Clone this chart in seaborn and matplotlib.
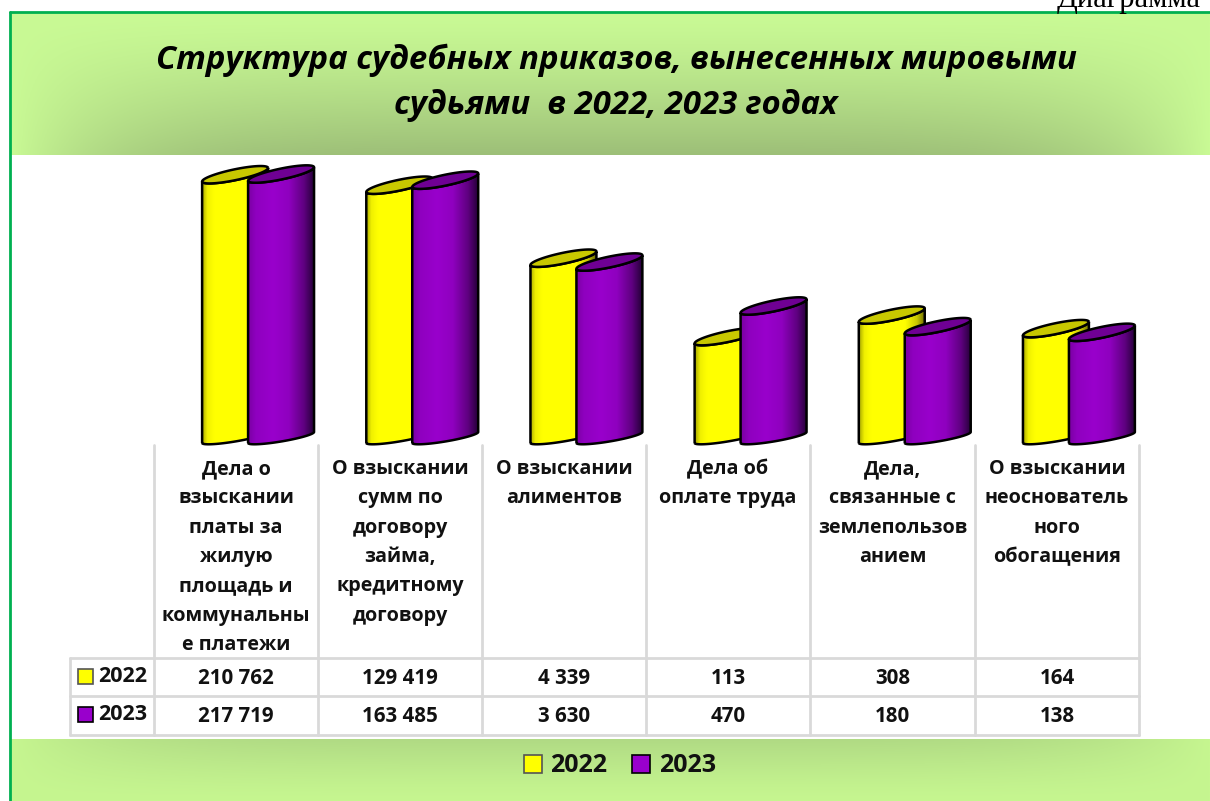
import numpy as np
import pandas as pd
import matplotlib
matplotlib.use('Agg')
import matplotlib.pyplot as plt
import seaborn as sns
from matplotlib.colors import LinearSegmentedColormap, to_rgb
from matplotlib.patches import Patch, PathPatch
from matplotlib.path import Path

categories = [
    'Дела о\nвзыскании\nплаты за\nжилую\nплощадь и\nкоммунальны\nе платежи',
    'О взыскании\nсумм по\nдоговору\nзайма,\nкредитному\nдоговору',
    'О взыскании\nалиментов',
    'Дела об\nоплате труда',
    'Дела,\nсвязанные с\nземлепользов\nанием',
    'О взыскании\nнеоснователь\nного\nобогащения',
]
values_2022 = [210762, 129419, 4339, 113, 308, 164]
values_2023 = [217719, 163485, 3630, 470, 180, 138]
years = ['2022', '2023']
title_lines = ['Структура судебных приказов, вынесенных мировыми',
               'судьями  в 2022, 2023 годах']

YELLOW = '#ffff00'
PURPLE = '#9900cc'
GRID = '#d9d9d9'
FONT = 'Open Sans'

W, H = 1210, 801
COLS = [154, 318, 482, 646, 810, 975, 1139]


def fmt(v):
    return f'{v:,}'.replace(',', ' ')


def band(ax, x0, x1, y0, y1, light, dark, dark_at_bottom=True, power=1.3):
    # soft green header/footer, darkest in the middle of one edge
    v = np.linspace(0, 1, 120)[:, None]
    if not dark_at_bottom:
        v = v[::-1]
    u = np.linspace(-1, 1, 500)[None, :]
    t = (v ** power) * (1 - np.abs(u) ** 5)
    rgb = np.array(to_rgb(light)) + t[..., None] * (np.array(to_rgb(dark)) - np.array(to_rgb(light)))
    ax.imshow(rgb, extent=(x0, x1, y1, y0), aspect='auto', zorder=1)


def ell(t, xc, yc, w, rise, b):
    return np.c_[xc + w / 2 * np.cos(t), yc - rise / 2 * np.cos(t) - b * np.sin(t)]


sns.set_theme(style='white')
plt.rcParams['font.family'] = FONT

fig = plt.figure(figsize=(W / 100, H / 100), dpi=100, facecolor='white')

# background, table and text live on a pixel-sized axes
deco = fig.add_axes([0, 0, 1, 1], zorder=0)

band(deco, 11, W, 13, 155, '#c9fa95', '#9dbf78')
band(deco, 11, W, 739, H, '#c6f690', '#b0da84', dark_at_bottom=False)
deco.plot([10, 10], [12, H], color='#00b050', lw=2, zorder=3)
deco.plot([10, W], [12, 12], color='#00b050', lw=2, zorder=3)
deco.text(1201, 7, 'Диаграмма', family='Liberation Serif', fontsize=22, ha='right',
          va='baseline', color='black', zorder=3)

for i, line in enumerate(title_lines):
    deco.text(616, 60 + i * 45, line, fontsize=23.7, fontweight='bold', style='italic',
              ha='center', va='center', color='black', zorder=4)

# table grid
for x in COLS:
    deco.plot([x, x], [445, 735], color=GRID, lw=2, zorder=2)
deco.plot([70, 70], [658, 735], color=GRID, lw=2, zorder=2)
for y in [658, 696, 735]:
    deco.plot([70, COLS[-1]], [y, y], color=GRID, lw=2, zorder=2)

for j, cat in enumerate(categories):
    xc = (COLS[j] + COLS[j + 1]) / 2
    for i, line in enumerate(cat.split('\n')):
        deco.text(xc, 469 + i * 29.3, line, fontsize=14.2, fontweight='bold', ha='center',
                  va='center', color='#111111', zorder=4)
    deco.text(xc, 678, fmt(values_2022[j]), fontsize=14.8, fontweight='bold', ha='center',
              va='center', color='#111111', zorder=4)
    deco.text(xc, 716, fmt(values_2023[j]), fontsize=14.8, fontweight='bold', ha='center',
              va='center', color='#111111', zorder=4)

for y, year, col, edge in [(676, years[0], YELLOW, '#555555'), (714, years[1], PURPLE, 'black')]:
    deco.add_patch(plt.Rectangle((78, y - 7.5), 15, 15, facecolor=col, edgecolor=edge, lw=1.2, zorder=4))
    deco.text(98, y + 1, year, fontsize=15.5, fontweight='bold', ha='left', va='center',
              color='#111111', zorder=4)

deco.set_xlim(0, W)
deco.set_ylim(H, 0)
deco.axis('off')

# bars: log value axis, 1 sits at the table top, one decade is 49.5 px
df = pd.DataFrame({
    'category': categories * 2,
    'year': [years[0]] * len(categories) + [years[1]] * len(categories),
    'value': values_2022 + values_2023,
})

PX_DECADE = 49.5
ax_l, ax_r, ax_top, ax_bot = 166, 1151, 150, 445
ax = fig.add_axes([ax_l / W, 1 - ax_bot / H, (ax_r - ax_l) / W, (ax_bot - ax_top) / H], zorder=1)
sns.barplot(data=df, x='category', y='value', hue='year', hue_order=years,
            palette=[YELLOW, PURPLE], saturation=1, width=0.56, gap=0, log_scale=True,
            legend=False, ax=ax)
ax.set_xlim(-0.5, len(categories) - 0.5)
ax.set_ylim(1, 10 ** ((ax_bot - ax_top) / PX_DECADE))
ax.axis('off')

# overlay turning each bar into a skewed cylinder
ov = fig.add_axes([0, 0, 1, 1], zorder=2)
ov.patch.set_alpha(0)

side_maps = [
    LinearSegmentedColormap.from_list('y', [(0, '#a8a800'), (0.08, '#f0f000'), (0.18, YELLOW),
                                            (0.7, YELLOW), (0.88, '#c8c800'), (1, '#6c6c00')]),
    LinearSegmentedColormap.from_list('p', [(0, '#7a00a3'), (0.12, '#8f00bf'), (0.38, PURPLE),
                                            (0.62, '#8f00bf'), (0.85, '#5f0080'), (1, '#26003a')]),
]
top_cols = ['#c8c800', '#6f0094']
DEPTH = 20
RISE_TOP, B_TOP = 13.5, 5.5
RISE_BASE, B_BASE = 11, 4
grad = np.linspace(0, 1, 256)[None, :]

n = len(categories)
for idx, p in enumerate(ax.patches):
    s = 0 if idx < n else 1
    top_val = p.get_y() + p.get_height()
    xa, ya = ax.transData.transform((p.get_x(), top_val))
    xb, _ = ax.transData.transform((p.get_x() + p.get_width(), top_val))
    _, yb = ax.transData.transform((p.get_x(), ax.get_ylim()[0]))
    x0, x1 = xa, xb + DEPTH
    ytop, ybase = H - ya, H - yb - 2
    w, xc = x1 - x0, (x0 + x1) / 2
    yc_top = ytop - RISE_TOP / 2
    yc_base = ybase - RISE_BASE / 2
    lower = np.linspace(np.pi, 2 * np.pi, 40)
    pts = np.vstack([ell(lower, xc, yc_base, w, RISE_BASE, B_BASE),
                     ell(lower[::-1], xc, yc_top, w, RISE_TOP, B_TOP),
                     ell(lower[:1], xc, yc_base, w, RISE_BASE, B_BASE)])
    side = PathPatch(Path(pts), facecolor='none', edgecolor='black', lw=1.8, zorder=5 + 3 * s)
    ov.add_patch(side)
    im = ov.imshow(grad, cmap=side_maps[s], extent=(x0, x1, ybase + 8, ytop - 16),
                   aspect='auto', zorder=4 + 3 * s)
    im.set_clip_path(side)
    p.set_visible(False)
    round_t = np.linspace(0, 2 * np.pi, 80)
    ov.add_patch(PathPatch(Path(ell(round_t, xc, yc_top, w, RISE_TOP, B_TOP)),
                           facecolor=top_cols[s], edgecolor='black', lw=1.8, zorder=6 + 3 * s))

ov.set_xlim(0, W)
ov.set_ylim(H, 0)
ov.axis('off')

handles = [Patch(facecolor=YELLOW, edgecolor='#555555', lw=1.2, label=years[0]),
           Patch(facecolor=PURPLE, edgecolor='black', lw=1.2, label=years[1])]
fig.legend(handles=handles, loc='center', bbox_to_anchor=(620 / W, 1 - 766 / H), ncol=2,
           frameon=False, handlelength=0.72, handleheight=0.72, handletextpad=0.35,
           columnspacing=1.0, labelcolor='#111111',
           prop={'family': FONT, 'weight': 'bold', 'size': 18})

plt.savefig('out.png', dpi=100)
plt.close()
